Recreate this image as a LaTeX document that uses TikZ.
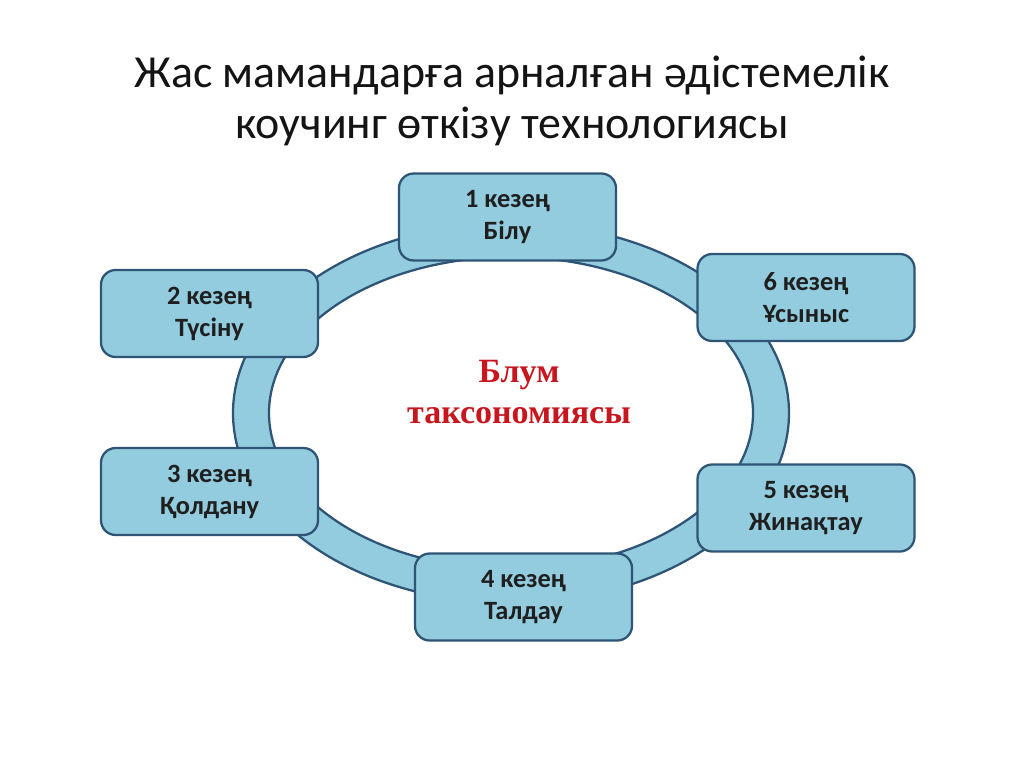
\documentclass[tikz,border=0pt]{standalone}
\usepackage{fontspec}
\setmainfont{Carlito}
\newfontfamily\tnr{Liberation Serif}
\definecolor{boxfill}{RGB}{146,204,222}
\definecolor{boxline}{RGB}{46,84,118}
\definecolor{redtext}{RGB}{200,22,30}
\definecolor{titletext}{RGB}{20,20,20}
\tikzset{
  stage/.style={draw=boxline, fill=boxfill, line width=1.7pt, rounded corners=11pt,
    minimum width=162.75pt, minimum height=65.25pt, align=center,
    font=\fontsize{19.8}{24}\selectfont\bfseries, text=black!88, inner sep=0pt},
  titlestyle/.style={font=\fontsize{34.4}{34.4}\selectfont, text=titletext, anchor=base, inner sep=0pt},
  ring/.style={fill=boxfill, draw=boxline, line width=1.7pt, even odd rule}
}
\begin{document}
\begin{tikzpicture}[x=0.75pt,y=-0.75pt]
\useasboundingbox (0,0) rectangle (1024,767);
\node[titlestyle] (t1) at (512,88) {Жас мамандарға арналған әдістемелік};
\node[titlestyle] (t2) at (512,138) {коучинг өткізу технологиясы};
% ring
\path[ring] (511,413) ellipse [x radius=278, y radius=190] (511,413) ellipse [x radius=242, y radius=156];
% boxes
\node[stage] (s1) at (507.5,217) {1 кезең\\Білу};
\node[stage] (s2) at (209.5,313.5) {2 кезең\\Түсіну};
\node[stage] (s3) at (209.5,491.5) {3 кезең\\Қолдану};
\node[stage] (s4) at (523.5,597) {4 кезең\\Талдау};
\node[stage] (s5) at (806,508) {5 кезең\\Жинақтау};
\node[stage] (s6) at (806,297.5) {6 кезең\\Ұсыныс};
% center
\node[font=\tnr\fontsize{25.5}{31}\selectfont\bfseries, text=redtext, align=center, inner sep=0pt] (c) at (519,392) {Блум\\таксономиясы};
\end{tikzpicture}
\end{document}
